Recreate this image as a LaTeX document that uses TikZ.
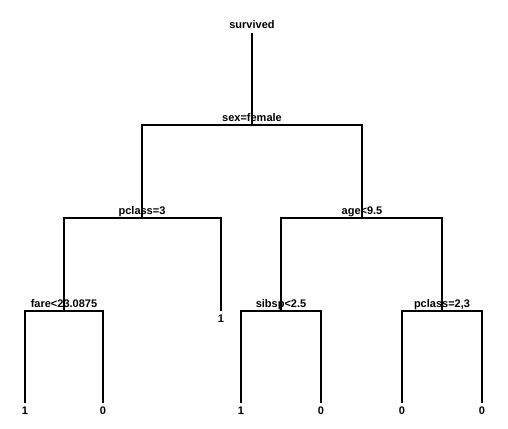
\documentclass[tikz,border=0pt]{standalone}
\usepackage{fontspec}
\setmainfont{Liberation Sans}
\begin{document}
\begin{tikzpicture}[x=1pt,y=-1pt,
  branch/.style={draw=black,line width=2.4pt,line join=miter,line cap=butt},
  splitlabel/.style={anchor=base,inner sep=0pt,yshift=3.2pt,font=\fontsize{11}{13}\selectfont\bfseries},
  leaflabel/.style={anchor=north,inner sep=0pt,yshift=-4pt,font=\fontsize{11}{13}\selectfont\bfseries}]
\useasboundingbox (0,0) rectangle (508,428);
% positions
\coordinate (top) at (252,33);
\coordinate (s0) at (252,125);
\coordinate (a) at (142,218);
\coordinate (b) at (362,218);
\coordinate (c) at (64,311);
\coordinate (d) at (221,311);
\coordinate (e) at (281,311);
\coordinate (f) at (442,311);
\coordinate (g) at (25,403);
\coordinate (h) at (103,403);
\coordinate (i) at (241,403);
\coordinate (j) at (321,403);
\coordinate (k) at (402,403);
\coordinate (l) at (482,403);
% labels
\node[anchor=base,inner sep=0pt,font=\fontsize{11}{13}\selectfont\bfseries] (root) at (252,29) {survived};
\node[splitlabel] (ls0) at (s0) {sex=female};
\node[splitlabel] (la) at (a) {pclass=3};
\node[splitlabel] (lb) at (b) {age<9.5};
\node[splitlabel] (lc) at (c) {fare<23.0875};
\node[splitlabel] (le) at (e) {sibsp<2.5};
\node[splitlabel] (lf) at (f) {pclass=2,3};
\node[leaflabel] (ld) at (d) {1};
\node[leaflabel] (lg) at (g) {1};
\node[leaflabel] (lh) at (h) {0};
\node[leaflabel] (li) at (i) {1};
\node[leaflabel] (lj) at (j) {0};
\node[leaflabel] (lk) at (k) {0};
\node[leaflabel] (ll) at (l) {0};
% branches
\draw[branch] (top) -- (s0);
\draw[branch] (a) -- (a |- s0) -- (b |- s0) -- (b);
\draw[branch] (c) -- (c |- a) -- (d |- a) -- (d);
\draw[branch] (e) -- (e |- b) -- (f |- b) -- (f);
\draw[branch] (g) -- (g |- c) -- (h |- c) -- (h);
\draw[branch] (i) -- (i |- e) -- (j |- e) -- (j);
\draw[branch] (k) -- (k |- f) -- (l |- f) -- (l);
\end{tikzpicture}
\end{document}
